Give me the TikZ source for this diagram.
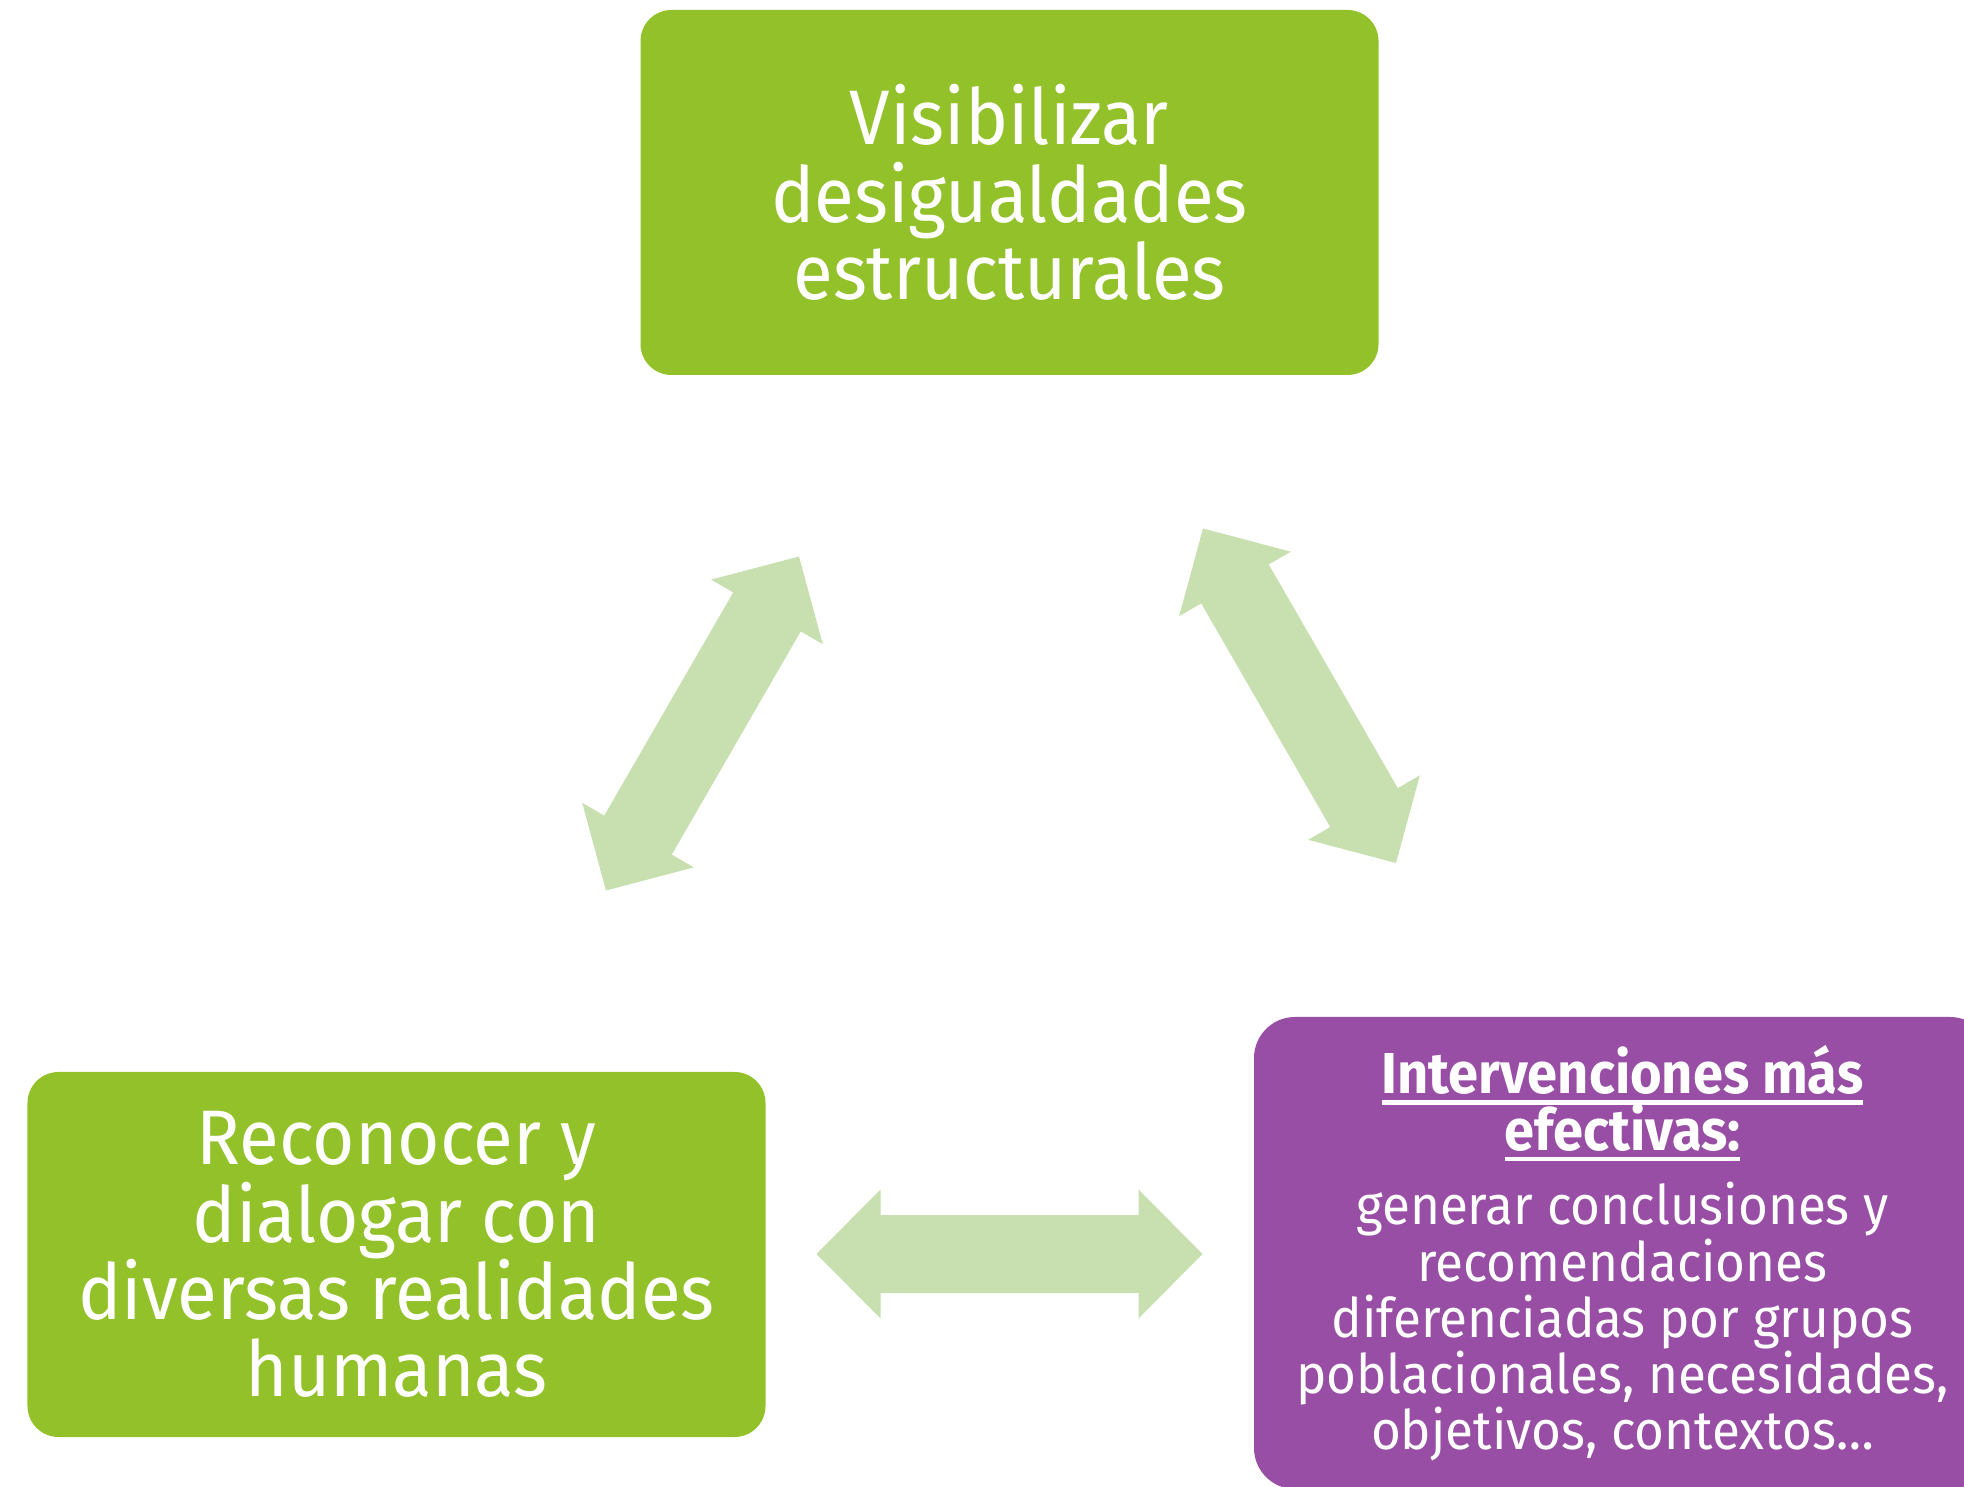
\documentclass[tikz,border=0pt]{standalone}
\usepackage{fontspec}
\setmainfont{Fira Sans}[FakeStretch=0.94]
\usepackage{xcolor}
\usetikzlibrary{calc}
\definecolor{limegreen}{HTML}{93C12A}
\definecolor{plum}{HTML}{974EA4}
\definecolor{palegreen}{HTML}{C8DFB0}
\tikzset{
  box/.style={rectangle, rounded corners=0.62cm, text=white, align=center, inner sep=0pt},
  greenbox/.style={box, fill=limegreen, minimum width=14.76cm, minimum height=7.3cm, font=\fontsize{44}{44}\selectfont},
  purplebox/.style={box, rounded corners=0.82cm, fill=plum, minimum width=14.74cm, minimum height=9.44cm, font=\fontsize{31}{32}\selectfont},
  arrowfill/.style={fill=palegreen},
}
\newcommand{\headtext}[1]{\vtop{\hbox{\fontsize{32.8}{32}\selectfont\bfseries #1}\kern3pt\hrule height 2.6pt}}
% wide two-headed arrow between two named points
\newcommand{\twoway}[2]{%
  \fill[arrowfill] (#1)
    -- ($(#1)!1.28cm!(#2)!1.29cm!90:(#2)$)
    -- ($(#1)!1.28cm!(#2)!0.78cm!90:(#2)$)
    -- ($(#2)!1.28cm!(#1)!0.78cm!-90:(#1)$)
    -- ($(#2)!1.28cm!(#1)!1.29cm!-90:(#1)$)
    -- (#2)
    -- ($(#2)!1.28cm!(#1)!1.29cm!90:(#1)$)
    -- ($(#2)!1.28cm!(#1)!0.78cm!90:(#1)$)
    -- ($(#1)!1.28cm!(#2)!0.78cm!-90:(#2)$)
    -- ($(#1)!1.28cm!(#2)!1.29cm!-90:(#2)$)
    -- cycle;}

\begin{document}
\begin{tikzpicture}
    \useasboundingbox (0,0) rectangle (39.28,29.72);
    \clip (0,0) rectangle (39.28,29.72);
    \node[greenbox] (visib) at (20.19,25.87) {Visibilizar\\desigualdades\\estructurales};
    \node[greenbox] (recon) at (7.93,4.63) {Reconocer y\\dialogar con\\diversas realidades\\humanas};
    \node[purplebox] (interv) at (32.45,4.66) {\rule{0pt}{0.98cm}\headtext{Intervenciones más}\\[-0.05cm]\headtext{efectivas:}\\[0.36cm]
      generar conclusiones y\\recomendaciones\\diferenciadas por grupos\\poblacionales, necesidades,\\objetivos, contextos…};
    % arrow ends
    \coordinate (recon-end) at (12.12,11.91);
    \coordinate (visib-endl) at (15.98,18.59);
    \coordinate (visib-endr) at (24.06,19.15);
    \coordinate (interv-endt) at (27.92,12.46);
    \coordinate (recon-endr) at (16.33,4.64);
    \coordinate (interv-endl) at (24.05,4.64);
    \twoway{recon-end}{visib-endl}
    \twoway{visib-endr}{interv-endt}
    \twoway{recon-endr}{interv-endl}
\end{tikzpicture}
\end{document}
